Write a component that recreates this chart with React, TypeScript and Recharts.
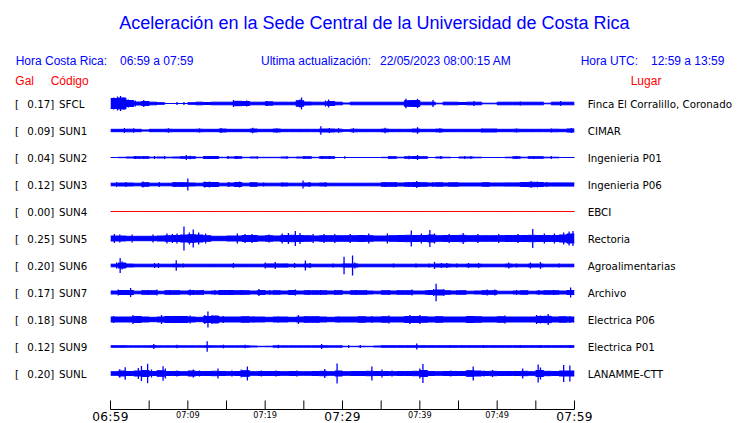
import React from 'react';
import { ComposedChart, Area, Scatter, ErrorBar, XAxis, YAxis } from 'recharts';

// ---------- DATA ----------
const stationCodes = ['SFCL', 'SUN1', 'SUN2', 'SUN3', 'SUN4', 'SUN5', 'SUN6', 'SUN7', 'SUN8', 'SUN9', 'SUNL'];
const galValues = ['0.17', '0.09', '0.04', '0.12', '0.00', '0.25', '0.20', '0.17', '0.18', '0.12', '0.20'];
const places = ['Finca El Corralillo, Coronado', 'CIMAR', 'Ingenieria P01', 'Ingenieria P06', 'EBCI', 'Rectoria', 'Agroalimentarias', 'Archivo', 'Electrica P06', 'Electrica P01', 'LANAMME-CTT'];

const minuteTicks = [0, 5, 10, 15, 20, 25, 30, 35, 40, 45, 50, 55, 60];
const bigTickLabels: Record<number, string> = { 0: '06:59', 30: '07:29', 60: '07:59' };
const smallTickLabels: Record<number, string> = { 10: '07:09', 20: '07:19', 40: '07:39', 50: '07:49' };

const title = 'Aceleración en la Sede Central de la Universidad de Costa Rica';
const localLabel = 'Hora Costa Rica:';
const localRange = '06:59 a 07:59';
const updateLabel = 'Ultima actualización:';
const updateValue = '22/05/2023 08:00:15 AM';
const utcLabel = 'Hora UTC:';
const utcRange = '12:59 a 13:59';

// envelope half-width of each trace, one value per minute (minute 0..59)
const bandSFCL = [5, 5.5, 3, 1.5, 2, 1.3, 0.8, 0, 0, 0, 0.8, 1.3, 1, 1.3, 1.3, 1.3, 2.2, 2, 1.3, 1.3, 1.7, 1.3, 1.3, 1.3, 2.8, 1.5, 1.3, 1.3, 2, 1.3, 0.5, 1.3, 1.3, 1.3, 1.3, 1.3, 1.3, 1.3, 2.8, 3, 1.3, 1.3, 0.3, 1.3, 1.3, 1, 1.3, 1.3, 0.3, 0.3, 1.3, 1.3, 1.3, 1.3, 1.3, 1.3, 0.3, 1.3, 1.3, 1.3];
const bandSUN1 = [1.2, 1.2, 1.3, 1.2, 0.6, 1.2, 1.2, 1.3, 1.2, 1.2, 1.2, 1.3, 1.2, 1.2, 1.5, 1.2, 1.2, 1.2, 1.5, 1.2, 1.2, 1.5, 1.2, 1.2, 1.2, 1.2, 1.2, 1.5, 1.5, 1.3, 0.8, 1.3, 1.2, 1.2, 1.2, 1.4, 1.2, 1.2, 1.2, 1.5, 1.2, 1.2, 1.4, 1.2, 1.2, 1.2, 1.2, 1.2, 1.5, 1.5, 1.2, 1.2, 1.3, 1.2, 1.2, 1.2, 1.2, 1.3, 1.2, 1.6];
const bandSUN2 = [0, 0.2, 0.5, 0.8, 0.8, 0.3, 0.5, 0.3, 0.5, 0.8, 0.8, 0.2, 1, 1, 0.2, 0.5, 0.8, 0.2, 0.5, 0.2, 0.2, 0.2, 0.5, 0.2, 0.5, 0.8, 0.2, 0.8, 0.8, 0, 0, 0, 0, 0, 0, 0.2, 0.8, 0.3, 0.8, 1, 0.8, 0, 0.5, 0.3, 0, 0.5, 0.5, 0.3, 0, 0, 0, 0.3, 0.8, 0.3, 0.8, 0.8, 0.3, 0.3, 0, 0];
const bandSUN3 = [1.3, 1.5, 1.5, 1.3, 1.8, 1.3, 1.3, 1.3, 1.8, 1.8, 1.5, 1.3, 2, 2, 1.3, 1.5, 2, 1.3, 1.8, 1.3, 1.3, 1.3, 1.5, 1.3, 1.3, 1.5, 1.3, 1.5, 1.3, 1.3, 1.3, 1.3, 1.3, 1.3, 1.3, 1.8, 1.8, 1.5, 1.8, 2, 1.8, 1.5, 1.8, 1.5, 1.8, 1.5, 1.5, 1.5, 1.8, 1.5, 1.5, 1.6, 1.6, 2, 2.2, 2, 1.6, 1.6, 1.6, 1.6];
const bandSUN4 = [0, 0, 0, 0, 0, 0, 0, 0, 0, 0, 0, 0, 0, 0, 0, 0, 0, 0, 0, 0, 0, 0, 0, 0, 0, 0, 0, 0, 0, 0, 0, 0, 0, 0, 0, 0, 0, 0, 0, 0, 0, 0, 0, 0, 0, 0, 0, 0, 0, 0, 0, 0, 0, 0, 0, 0, 0, 0, 0, 0];
const bandSUN5 = [2.5, 2.5, 2.2, 2.2, 2.2, 2.2, 2.5, 2.8, 3, 3.5, 3.8, 3.5, 2.8, 2.2, 2.2, 2.5, 2.5, 3, 3, 2.5, 2.8, 2.5, 3, 3.2, 3, 2.8, 2.5, 2.8, 2.8, 2.8, 2.8, 2.8, 3, 2.8, 2.5, 2.5, 2.8, 3, 3.2, 3, 3, 3.5, 2.8, 3, 3, 3.2, 2.8, 2.8, 2.8, 2.8, 2.8, 3, 3, 3, 3.2, 3, 3, 3, 3.5, 4.5];
const bandSUN6 = [1.3, 2.5, 1.5, 1.3, 1.3, 1.3, 1.3, 1.3, 1.4, 1.3, 1.3, 1.3, 1.3, 1.3, 1.3, 1.3, 1.3, 1.3, 1.3, 1.3, 1.6, 1.6, 1.6, 1.3, 1.3, 1.5, 1.3, 1.3, 1.3, 1.3, 1.6, 1.6, 1.3, 1.3, 1.3, 1.3, 1.3, 1.3, 1.3, 1.3, 1.3, 1.3, 1.5, 1.5, 1.3, 1.3, 1.4, 1.4, 1.3, 1.3, 1.3, 1.5, 1.3, 1.3, 1.5, 1.5, 1.3, 1.3, 1.3, 1.3];
const bandSUN7 = [1.5, 2, 2, 1.3, 1.8, 1.8, 1.3, 1.8, 1.8, 1.5, 1.8, 1.8, 1.3, 1.5, 2, 2, 1.8, 1.8, 1.5, 2, 1.5, 1.8, 1.5, 2, 1.5, 1.8, 1.8, 1.8, 1.5, 1.8, 1.3, 1.8, 1.8, 1.5, 1.3, 1.8, 1.5, 1.8, 1.8, 1.5, 1.5, 2, 2.5, 1.8, 1.5, 1.8, 1.3, 1.5, 1.8, 1.8, 1.3, 1.3, 1.5, 1.8, 1.3, 1.5, 1.8, 1.8, 1.5, 2];
const bandSUN8 = [2.5, 2.5, 2.5, 3, 2.5, 2.2, 2.5, 3, 3, 3, 2.5, 2.2, 3, 3.5, 2.5, 2.5, 2.5, 2.8, 2.5, 2.5, 2.2, 2.5, 2.5, 2.2, 2.5, 2.8, 2.8, 2.5, 2.2, 2.5, 2.5, 2.5, 2.8, 2.5, 2.5, 2.8, 2.5, 2.5, 3, 3, 2.8, 2.5, 2.8, 2.5, 2.5, 2.5, 3, 2.8, 2.5, 2.5, 2.8, 2.5, 2.5, 2.5, 2.5, 3, 3.2, 2.5, 2.8, 2.5];
const bandSUN9 = [0.8, 0.8, 0.7, 0.7, 0.7, 0.8, 0.7, 0.7, 0.7, 0.7, 0.7, 0.7, 0.8, 0.7, 0.7, 0.7, 0.7, 0.7, 0.5, 0.2, 0.3, 0.7, 0.7, 0.7, 0.7, 0.7, 0.7, 0.8, 0.7, 0.7, 0.2, 0.2, 0.3, 0.2, 0.5, 0.8, 0.8, 0.8, 0.8, 0.8, 0.8, 0.8, 0.8, 0.8, 0.8, 0.8, 0.8, 0.8, 0.8, 0.8, 0.8, 0.8, 0.8, 0.8, 0.8, 0.8, 0.8, 0.8, 0.8, 0.8];
const bandSUNL = [1.8, 2.5, 2, 2.5, 3, 2, 2.8, 2, 2, 1.8, 2.5, 2, 2, 2.2, 2, 1.8, 2, 2.8, 1.8, 2, 2, 2, 1.8, 2, 1.8, 1.8, 2, 2.2, 1.8, 2.5, 1.8, 2, 2, 2.2, 2, 2, 1.8, 2, 2, 2.2, 3, 2, 1.8, 2, 2, 2, 2.8, 2.5, 2, 2.2, 2, 2, 2, 2.2, 1.8, 3, 2.2, 2, 2.5, 2.5];

// isolated peaks: [minute, half amplitude]
const spikesSFCL = [[0.4, 6], [0.9, 7], [1.3, 7.5], [1.7, 6], [2.3, 4], [3.2, 3], [4.3, 3.5], [8.6, 1.5], [9.5, 1.5], [15.9, 3.5], [16.4, 2.5], [17.6, 3], [20.2, 2.5], [24.5, 4], [24.7, 6], [27.8, 3], [28.2, 4], [38.2, 4.7], [38.7, 3.5], [39.7, 4.7], [41.7, 3.5], [47, 2.5], [53, 2], [58.2, 2.5]];
const spikesSUN1 = [[1.8, 2.5], [3, 2.3], [7.5, 2.2], [11.5, 2], [14.3, 2.5], [18.4, 2.8], [21.5, 2], [27.2, 4.3], [28.3, 2.5], [29.5, 2.3], [31.4, 2.2], [35.5, 2.7], [39.7, 3.3], [42.6, 2.2], [48, 2], [52.5, 2], [57, 2], [59.6, 2.5]];
const spikesSUN2 = [[3.2, 1.5], [4.3, 1.5], [5.7, 1.5], [7, 1.5], [9.8, 2.5], [10.3, 1.8], [13, 1.5], [15.2, 1.5], [16.3, 1.5], [19, 1.2], [22.8, 1.2], [25, 1.5], [27.4, 1.5], [28.3, 1.5], [30.3, 1.2], [36, 1.5], [38.6, 1.8], [39.7, 2.5], [42.7, 1.5], [45.8, 1.5], [46.6, 1.5], [52.5, 1.5], [54.8, 1.5], [57, 1.5]];
const spikesSUN3 = [[0.8, 2.5], [2, 2.5], [4.2, 3], [6.3, 2.5], [8.3, 2.5], [9.2, 2.5], [10, 6], [12.2, 3], [12.8, 3], [15.3, 2.5], [16.7, 3], [19.8, 2], [22.2, 2], [24.9, 4], [25.7, 2.5], [27.8, 2.2], [35.5, 2.5], [36.9, 2.5], [38.6, 2.5], [39.6, 3.5], [41.7, 2.5], [43.8, 2.5], [48.8, 2.2], [53.5, 2.5], [54.4, 3.3], [55.2, 3], [56.4, 2.5]];
const spikesSUN4: number[][] = [];
const spikesSUN5 = [[0.5, 4.5], [1.2, 4], [2.8, 4], [5.5, 4], [7.3, 5], [8, 4.5], [8.6, 5], [9.5, 12], [10.2, 6], [10.7, 9], [11.4, 6], [12.3, 5], [16.4, 5], [17.4, 4.5], [18.3, 4.5], [20.5, 4], [22.2, 5], [23, 5.5], [23.9, 7.5], [24.5, 5.5], [26.2, 4.5], [27.6, 4.5], [29, 4.5], [31, 4.5], [33.4, 5], [35.8, 5], [38.9, 8], [40.2, 5], [41.3, 8.5], [41.9, 5], [43.8, 4.5], [45.6, 5.5], [47.5, 4.5], [50.2, 4.5], [52.7, 4.5], [54.6, 9.5], [56.1, 5], [57.4, 5], [58.6, 6], [59.3, 7], [59.8, 7.5]];
const spikesSUN6 = [[0.8, 3], [1.25, 7.5], [1.5, 4], [5.7, 2.5], [6.2, 2.5], [8.5, 5.3], [9.4, 2], [15.9, 2.5], [20, 3], [21.3, 3.5], [23.8, 2.5], [25.2, 5], [25.8, 2.5], [28.8, 2], [30.2, 8.7], [31.3, 10], [31.6, 3], [36.6, 2], [39.5, 2], [41.2, 2], [41.9, 3.5], [42.8, 2.5], [43.5, 2.5], [44.8, 2], [46.3, 2.5], [47.6, 2.5], [51.5, 3], [52.5, 2], [54.3, 3], [55.6, 3.5], [58, 2]];
const spikesSUN7 = [[1, 3], [2.6, 4.5], [4.9, 2.5], [6, 3], [7.7, 2.5], [10.3, 3], [10.7, 2.5], [12, 2.5], [13.5, 2.5], [16.9, 2.5], [19.2, 3.5], [20.6, 2.5], [23.9, 3], [25.6, 2.5], [27.2, 2.5], [29, 2.5], [31.8, 2.5], [33.1, 2.5], [36.1, 2.5], [39, 3], [40.8, 2.5], [41.8, 3.5], [42.1, 8.7], [43.1, 3.5], [44.8, 2.5], [48.7, 3], [49.7, 3], [52.5, 2.5], [55.4, 2.5], [57.3, 2.5], [59.5, 5]];
const spikesSUN8 = [[0.4, 3.5], [2.9, 4.5], [3.6, 3.5], [6.6, 4.5], [9.2, 3.5], [10.3, 4], [12.2, 4.5], [12.6, 8], [13.1, 4], [14.6, 3.5], [16.9, 3], [18.5, 3], [21.7, 3], [24.3, 4.5], [25.2, 3], [26.9, 3], [29.5, 3], [33.8, 3.5], [36, 4], [38.7, 4.5], [40, 4.5], [42.2, 3.5], [46.5, 3.5], [51, 4], [55.1, 4.5], [55.6, 4], [56.6, 5.5], [59.4, 3.5]];
const spikesSUN9 = [[5.6, 2.5], [8.6, 1.8], [12.5, 5.3], [14.6, 1.8], [17.4, 1.8], [21.7, 1.8], [27.3, 2.5], [30.8, 1.5], [32.3, 1.5], [39.6, 3], [43.9, 1.5], [48.2, 1.5], [53, 1.5], [55.6, 1.5], [59.4, 1.5]];
const spikesSUNL = [[1.2, 4.3], [1.9, 6.3], [3.6, 5.5], [4.0, 7.5], [4.8, 9.7], [5.3, 4], [6.8, 7.3], [7.1, 5], [8.6, 3], [10.7, 4], [11.5, 3], [13.9, 5], [15.7, 3], [16.9, 4], [17.7, 7], [19.5, 3], [21.4, 3], [24.1, 3], [27.7, 4.5], [29.3, 10], [33.8, 7], [35.1, 4], [36.4, 3], [40, 5], [40.4, 9.5], [44, 3], [46.9, 7], [48.3, 3], [49.4, 3.5], [53.3, 5], [55.3, 9], [55.6, 6], [58.6, 8.5], [59.4, 8]];

const bands = [bandSFCL, bandSUN1, bandSUN2, bandSUN3, bandSUN4, bandSUN5, bandSUN6, bandSUN7, bandSUN8, bandSUN9, bandSUNL];
const spikes = [spikesSFCL, spikesSUN1, spikesSUN2, spikesSUN3, spikesSUN4, spikesSUN5, spikesSUN6, spikesSUN7, spikesSUN8, spikesSUN9, spikesSUNL];

// ---------- LAYOUT / STYLE ----------
const W = 740;
const H = 423;
const ROW = 27;
const BLUE = '#0000ff';
const RED = '#ff0000';
const traceColors = stationCodes.map((c) => (c === 'SUN4' ? RED : BLUE));

const tableRows = Array.from({ length: 61 }, (_, t) => {
  const row: Record<string, any> = { t };
  bands.forEach((b, k) => {
    const h = b[Math.min(t, b.length - 1)];
    row['b' + k] = [ROW * k - h, ROW * k + h];
  });
  return row;
});

const spikeData = spikes.map((list, k) => list.map(([t, a]) => ({ t, y: ROW * k, e: a })));

const NoDot = () => <g />;

const AxisTick = (props: any) => {
  const { x, y, payload } = props;
  const v = payload.value;
  return (
    <g>
      <line x1={x} y1={y - 9} x2={x} y2={y} stroke="#000" strokeWidth={1} />
      {bigTickLabels[v] !== undefined && (
        <text x={x} y={y + 11.5} textAnchor="middle" fontFamily="DejaVu Sans" fontSize={12.2} letterSpacing={0.3} fill="#000">
          {bigTickLabels[v]}
        </text>
      )}
      {smallTickLabels[v] !== undefined && (
        <text x={x} y={y + 8} textAnchor="middle" fontFamily="DejaVu Sans" fontSize={8.2} fill="#000">
          {smallTickLabels[v]}
        </text>
      )}
    </g>
  );
};

export default function App() {
  const rowBase = 103.5;
  return (
    <div style={{ position: 'absolute', left: 0, top: 0, width: W, height: H, background: '#fff' }}>
      <ComposedChart
        width={W}
        height={H}
        data={tableRows}
        margin={{ top: 89.5, right: 165.5, left: 110.5, bottom: 0 }}
      >
        <XAxis
          dataKey="t"
          type="number"
          domain={[0, 60]}
          ticks={minuteTicks}
          interval={0}
          height={13.5}
          tickSize={0}
          tickMargin={0}
          tickLine={false}
          axisLine={{ stroke: '#000', strokeWidth: 1 }}
          tick={<AxisTick />}
          allowDataOverflow
        />
        <YAxis type="number" domain={[-14, 306]} reversed hide allowDataOverflow />
        {bands.map((_, k) => (
          <Area
            key={'a' + k}
            dataKey={'b' + k}
            type="stepAfter"
            stroke={traceColors[k]}
            strokeWidth={1}
            fill={traceColors[k]}
            fillOpacity={1}
            dot={false}
            activeDot={false}
            isAnimationActive={false}
          />
        ))}
        {spikeData.map((d, k) => (
          <Scatter key={'s' + k} data={d} dataKey="y" shape={<NoDot />} isAnimationActive={false}>
            <ErrorBar dataKey="e" direction="y" width={0} stroke={traceColors[k]} strokeWidth={1.3} isAnimationActive={false} />
          </Scatter>
        ))}
      </ComposedChart>
      <svg width={W} height={H} style={{ position: 'absolute', left: 0, top: 0, pointerEvents: 'none' }}>
        <text x={374.5} y={29.3} textAnchor="middle" fontFamily="Liberation Sans" fontSize={18} fill={BLUE}>{title}</text>
        <g fontFamily="Liberation Sans" fontSize={12} fill={BLUE}>
          <text x={15.7} y={65}>{localLabel}</text>
          <text x={120} y={65}>{localRange}</text>
          <text x={261} y={65}>{updateLabel}</text>
          <text x={380} y={65}>{updateValue}</text>
          <text x={580.7} y={65}>{utcLabel}</text>
          <text x={651} y={65}>{utcRange}</text>
        </g>
        <g fontFamily="Liberation Sans" fontSize={12} fill={RED}>
          <text x={15.3} y={85}>Gal</text>
          <text x={50.7} y={85}>Código</text>
          <text x={630.7} y={85}>Lugar</text>
        </g>
        <g fontFamily="DejaVu Sans" fontSize={10.3} fill="#000">
          {stationCodes.map((code, k) => {
            const yb = rowBase + ROW * k + 4;
            return (
              <g key={code}>
                <text x={15} y={yb}>[</text>
                <text x={54.3} y={yb} textAnchor="end">{galValues[k] + ']'}</text>
                <text x={59} y={yb}>{code}</text>
                <text x={587.7} y={yb}>{places[k]}</text>
              </g>
            );
          })}
        </g>
      </svg>
    </div>
  );
}
